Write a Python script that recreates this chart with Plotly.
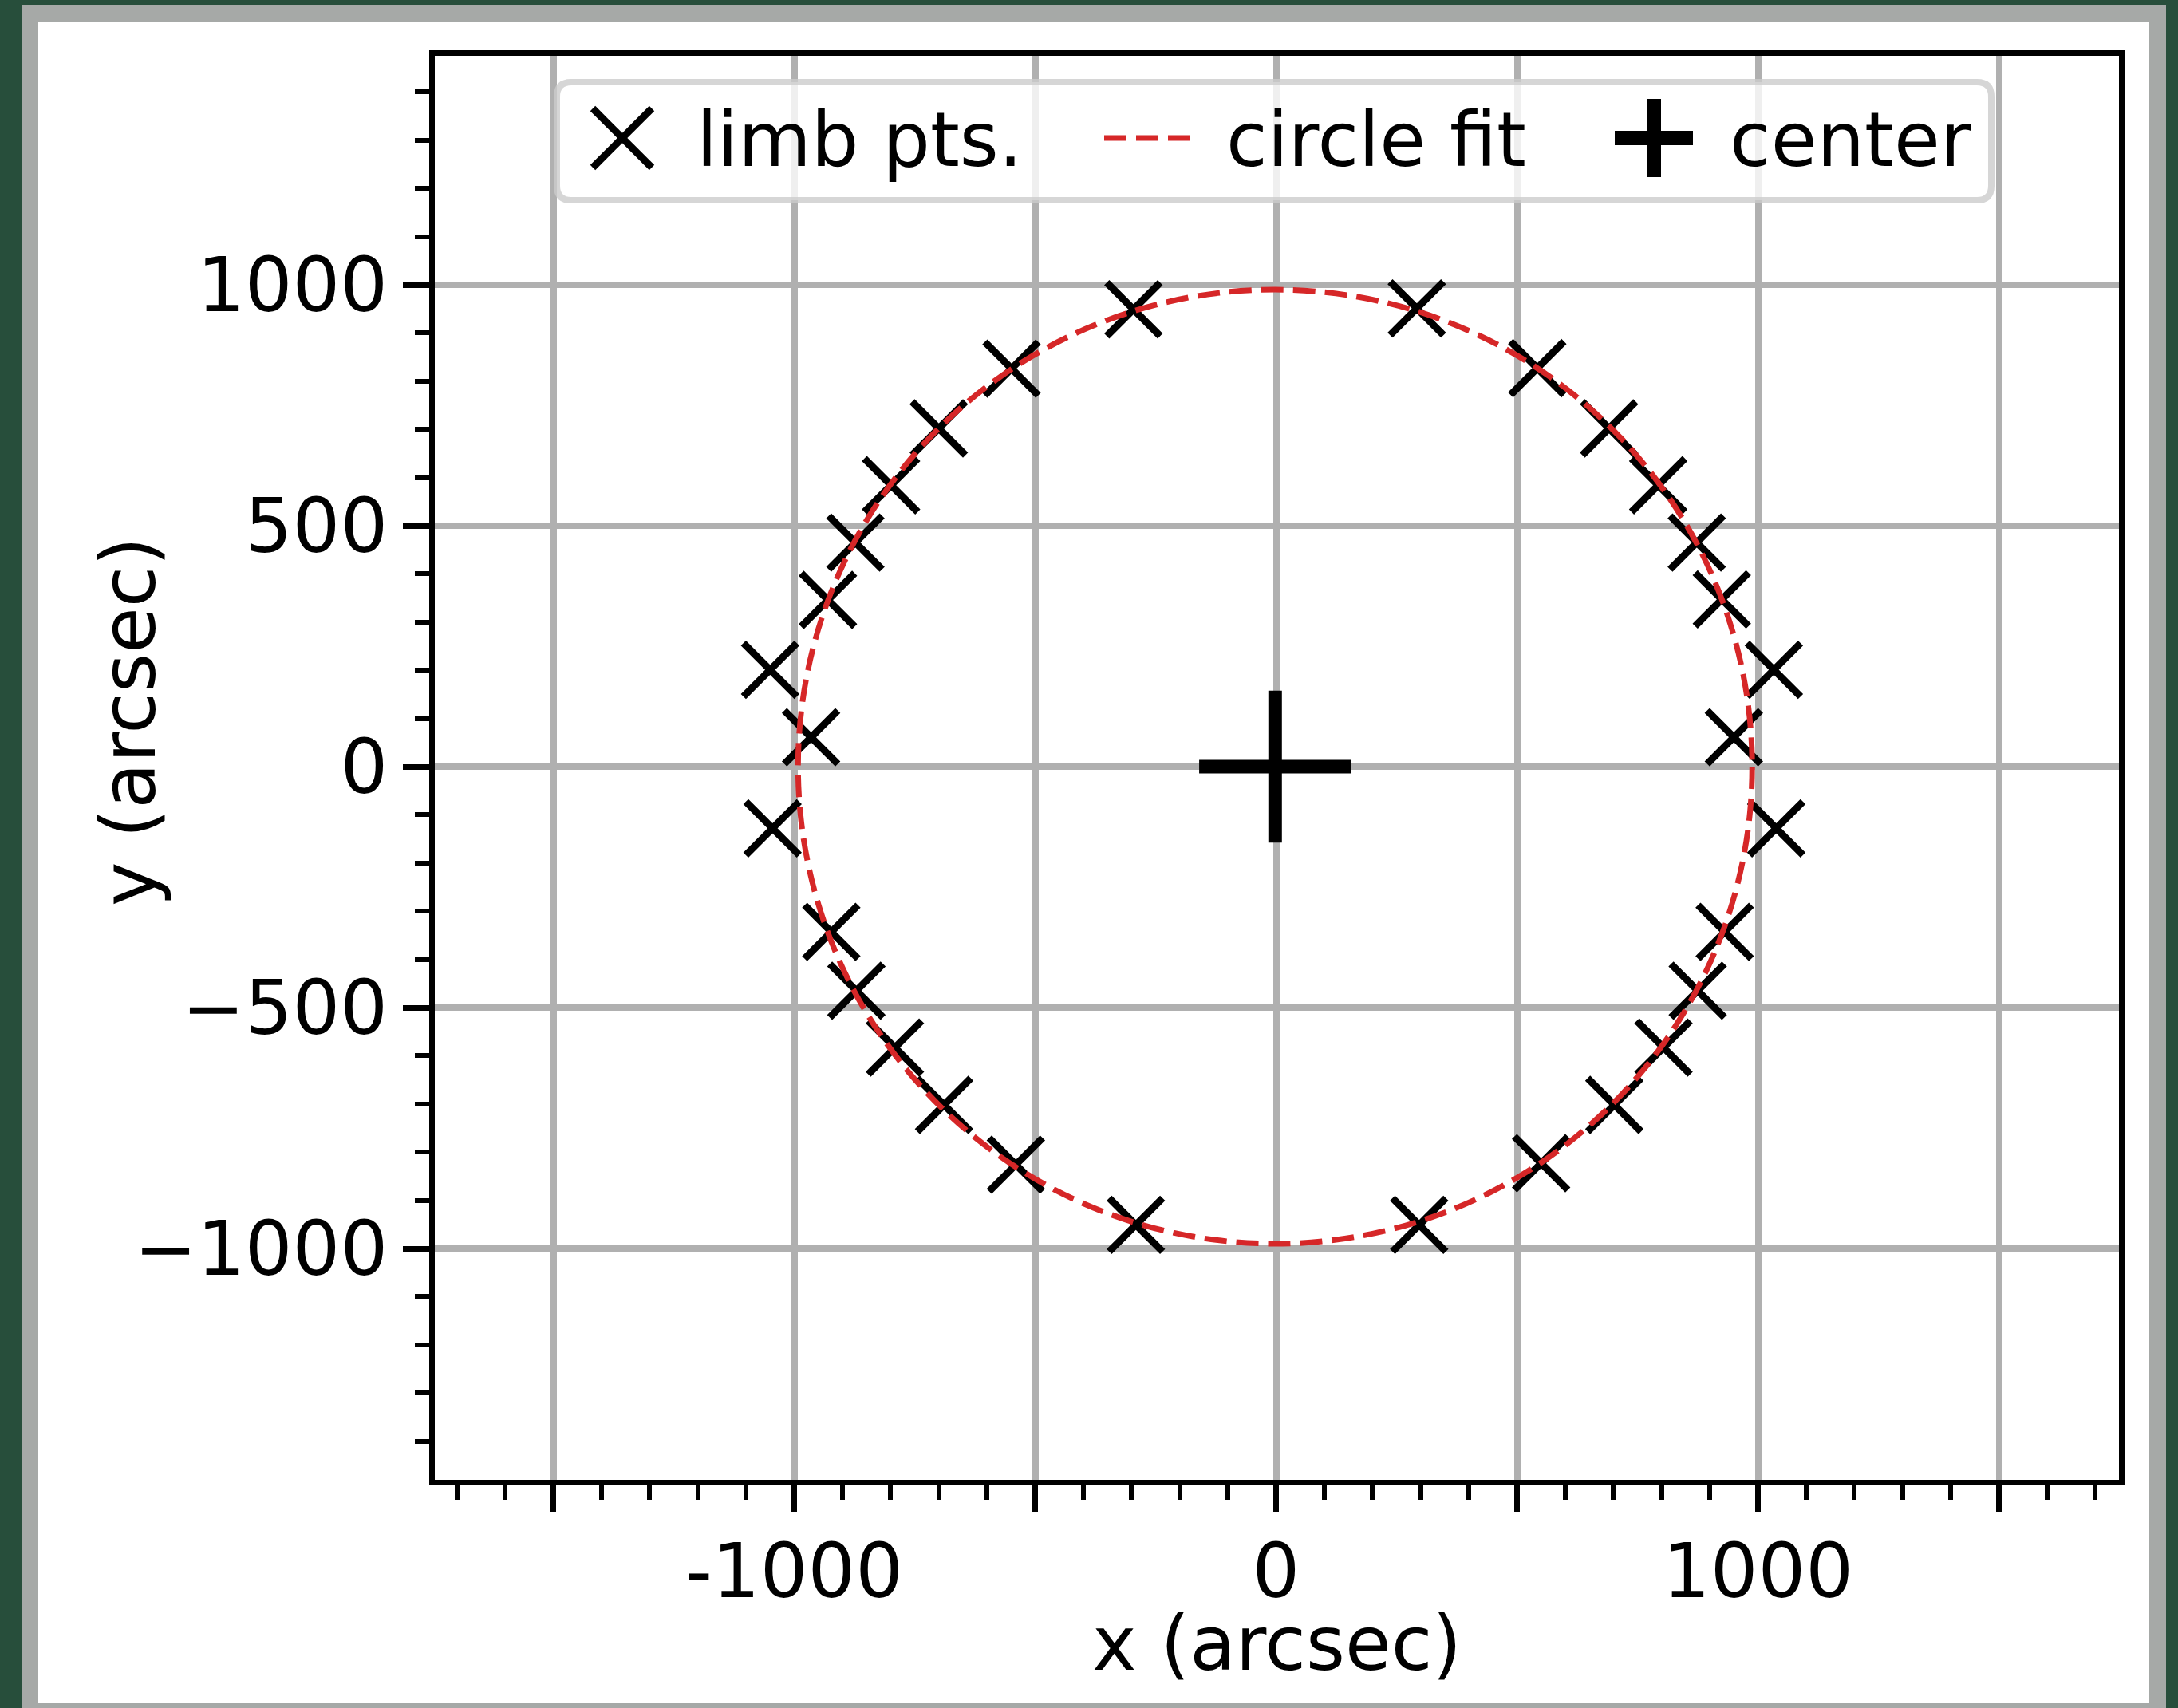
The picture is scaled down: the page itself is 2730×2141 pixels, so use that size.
import plotly.graph_objects as go

# ---- data (arcsec) ----
limb_x = [-296, -549, -700, -799, -873, -930, -1050, -965, -1045, -923, -871, -791, -689, -540, -291,
          292, 542, 691, 793, 873, 925, 1033, 950, 1038, 931, 875, 804, 702, 550, 297]
limb_y = [949, 826, 702, 584, 465, 346, 201, 61, -128, -343, -465, -583, -702, -826, -951,
          951, 827, 702, 584, 465, 347, 201, 61, -128, -343, -465, -583, -702, -823, -951]

fit_center_x = -2
fit_center_y = 0
fit_radius = 990

x_tick_vals = [-1500, -1000, -500, 0, 500, 1000, 1500]
x_tick_text = ["", "-1000", "", "0", "", "1000", ""]
y_tick_vals = [-1000, -500, 0, 500, 1000]
y_tick_text = ["\u22121000", "\u2212500", "0", "500", "1000"]

legend_labels = ["limb pts.", "circle fit", "center"]

# ---- page geometry (pixels) ----
FIG_W, FIG_H = 2730, 2141
L, R, T, B = 545, 2656, 70, 1855
PW, PH = R - L, B - T

FONT = "DejaVu Sans"
FS = 94
RED = "#d62728"
GRID = "#b0b0b0"
GREEN = "#274e3b"
FRAME_GRAY = "#a6a9a7"


def px(X):
    return (X - L) / PW


def py(Y):
    return (B - Y) / PH


fig = go.Figure()

fig.add_trace(go.Scatter(
    x=limb_x, y=limb_y, mode="markers", name=legend_labels[0],
    marker=dict(symbol="x-thin", size=67, color="black",
                line=dict(width=9, color="black")),
))
fig.add_trace(go.Scatter(
    x=[fit_center_x], y=[fit_center_y], mode="markers", name=legend_labels[2],
    marker=dict(symbol="cross-thin", size=136, color="black",
                line=dict(width=17, color="black")),
))

shapes = []
# outer frame
shapes.append(dict(type="rect", xref="paper", yref="paper", layer="below",
                   x0=px(27), x1=px(2715), y0=py(6), y1=py(FIG_H + 20),
                   fillcolor=FRAME_GRAY, line=dict(width=0)))
shapes.append(dict(type="rect", xref="paper", yref="paper", layer="below",
                   x0=px(48), x1=px(2694), y0=py(27), y1=py(2135),
                   fillcolor="white", line=dict(width=0)))

# fitted circle
shapes.append(dict(type="circle", xref="x", yref="y", layer="above",
                   x0=fit_center_x - fit_radius, x1=fit_center_x + fit_radius,
                   y0=fit_center_y - fit_radius, y1=fit_center_y + fit_radius,
                   line=dict(color=RED, width=7, dash="28px,12px")))

# legend frame with rounded corners
lx0, lx1, ly0, ly1, rad = 698, 2496, 103, 251, 18


def rounded_path(x0, x1, y0, y1, r):
    pts = []
    pts.append(f"M{px(x0 + r)},{py(y0)}")
    pts.append(f"L{px(x1 - r)},{py(y0)}")
    pts.append(f"Q{px(x1)},{py(y0)} {px(x1)},{py(y0 + r)}")
    pts.append(f"L{px(x1)},{py(y1 - r)}")
    pts.append(f"Q{px(x1)},{py(y1)} {px(x1 - r)},{py(y1)}")
    pts.append(f"L{px(x0 + r)},{py(y1)}")
    pts.append(f"Q{px(x0)},{py(y1)} {px(x0)},{py(y1 - r)}")
    pts.append(f"L{px(x0)},{py(y0 + r)}")
    pts.append(f"Q{px(x0)},{py(y0)} {px(x0 + r)},{py(y0)}")
    return " ".join(pts) + " Z"


shapes.append(dict(type="path", xref="paper", yref="paper", layer="above",
                   path=rounded_path(lx0, lx1, ly0, ly1, rad),
                   fillcolor="rgba(255,255,255,0.8)",
                   line=dict(color="rgba(204,204,204,0.8)", width=8)))

# legend handles
cy = 173
hx = 780
hs = 37
shapes.append(dict(type="line", xref="paper", yref="paper", layer="above",
                   x0=px(hx - hs), y0=py(cy - hs), x1=px(hx + hs), y1=py(cy + hs),
                   line=dict(color="black", width=9)))
shapes.append(dict(type="line", xref="paper", yref="paper", layer="above",
                   x0=px(hx - hs), y0=py(cy + hs), x1=px(hx + hs), y1=py(cy - hs),
                   line=dict(color="black", width=9)))
shapes.append(dict(type="line", xref="paper", yref="paper", layer="above",
                   x0=px(1384), y0=py(cy), x1=px(1494), y1=py(cy),
                   line=dict(color=RED, width=7, dash="28px,12px")))
shapes.append(dict(type="line", xref="paper", yref="paper", layer="above",
                   x0=px(2024), y0=py(cy), x1=px(2122), y1=py(cy),
                   line=dict(color="black", width=18)))
shapes.append(dict(type="line", xref="paper", yref="paper", layer="above",
                   x0=px(2073), y0=py(cy - 49), x1=px(2073), y1=py(cy + 49),
                   line=dict(color="black", width=18)))

annotations = []
for text, xl in zip(legend_labels, [872, 1536, 2167]):
    annotations.append(dict(text=text, xref="paper", yref="paper",
                            x=px(xl), y=py(175), xanchor="left", yanchor="middle",
                            showarrow=False, borderpad=0,
                            font=dict(family=FONT, size=FS, color="black")))

annotations.append(dict(text="x (arcsec)", xref="paper", yref="paper",
                        x=px(1600), y=py(2060), xanchor="center", yanchor="middle",
                        showarrow=False, borderpad=0,
                        font=dict(family=FONT, size=FS, color="black")))
annotations.append(dict(text="y (arcsec)", xref="paper", yref="paper",
                        x=px(161), y=py(905), xanchor="center", yanchor="middle",
                        textangle=-90, showarrow=False, borderpad=0,
                        font=dict(family=FONT, size=FS, color="black")))

axis_common = dict(
    showgrid=True, gridcolor=GRID, gridwidth=8,
    zeroline=False,
    showline=True, linecolor="black", linewidth=7, mirror=True,
    ticks="outside", ticklen=33, tickwidth=7, tickcolor="black",
    tickfont=dict(family=FONT, size=FS, color="black"),
    tickmode="array",
    minor=dict(tickmode="linear", tick0=0, dtick=100, ticks="outside",
               ticklen=18, tickwidth=6, tickcolor="black", showgrid=False),
)

fig.update_layout(
    width=FIG_W, height=FIG_H, autosize=False,
    margin=dict(l=L, r=FIG_W - R, t=T, b=FIG_H - B, pad=0),
    paper_bgcolor=GREEN, plot_bgcolor="white",
    showlegend=False,
    xaxis=dict(axis_common, range=[(L - 1599.5) / 0.604, (R - 1599.5) / 0.604],
               tickvals=x_tick_vals, ticktext=x_tick_text, ticklabelstandoff=-6),
    yaxis=dict(axis_common, range=[(961 - B) / 0.604, (961 - T) / 0.604],
               tickvals=y_tick_vals, ticktext=y_tick_text),
    shapes=shapes,
    annotations=annotations,
)

fig.write_html("out.html")
